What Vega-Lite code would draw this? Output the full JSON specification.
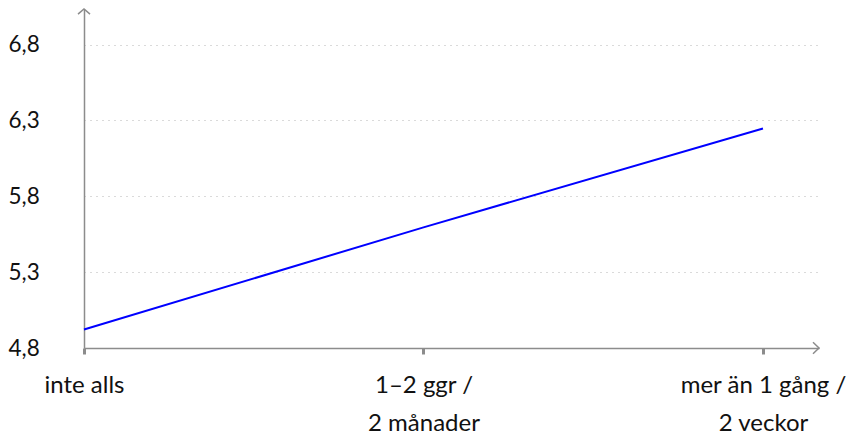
{
  "$schema": "https://vega.github.io/schema/vega-lite/v6.json",
  "autosize": {"type": "none"},
  "padding": {"left": 84, "top": 9, "right": 30, "bottom": 89},
  "width": 735,
  "height": 339,
  "background": "white",
  "config": {"view": {"stroke": null}, "font": "Lato"},
  "datasets": {
    "serie": [
      {"i": 0, "kategori": "inte alls", "varde": 4.922},
      {"i": 1, "kategori": "1–2 ggr / 2 månader", "varde": 5.595},
      {"i": 2, "kategori": "mer än 1 gång / 2 veckor", "varde": 6.247}
    ],
    "pilar": [
      {"x": 2.165, "y": 4.8, "riktning": "höger"},
      {"x": 0, "y": 7.034, "riktning": "upp"}
    ]
  },
  "layer": [
    {
      "data": {"name": "serie"},
      "mark": {"type": "line", "color": "#0000ff", "strokeWidth": 2},
      "encoding": {
        "x": {
          "field": "i", "type": "quantitative",
          "scale": {"domain": [0, 2.165], "nice": false, "zero": false},
          "axis": {
            "values": [0, 1, 2],
            "title": null,
            "grid": false,
            "domainColor": "#8c8c8c",
            "domainWidth": 1.5,
            "tickColor": "#8c8c8c",
            "tickWidth": 3,
            "tickSize": 6,
            "labelFont": "Lato",
            "labelFontSize": 24,
            "labelColor": "#111111",
            "labelPadding": 19,
            "labelLineHeight": 38,
            "labelFlush": false,
            "labelOverlap": false,
            "labelExpr": "datum.value == 0 ? 'inte alls' : datum.value == 1 ? ['1–2 ggr /', '2 månader'] : ['mer än 1 gång /', '2 veckor']"
          }
        },
        "y": {
          "field": "varde", "type": "quantitative",
          "scale": {"domain": [4.8, 7.034], "nice": false, "zero": false},
          "axis": {
            "values": [4.8, 5.3, 5.8, 6.3, 6.8],
            "title": null,
            "ticks": false,
            "tickSize": 0,
            "domainColor": "#8c8c8c",
            "domainWidth": 1.5,
            "gridColor": "#b5b5b5",
            "gridDash": [1, 5],
            "gridWidth": 1,
            "labelFont": "Lato",
            "labelFontSize": 22.5,
            "labelColor": "#111111",
            "labelAlign": "left",
            "labelBaseline": "middle",
            "labelPadding": 76,
            "labelFlush": false,
            "labelExpr": "replace(format(datum.value, '.1f'), '.', ',')"
          }
        }
      }
    },
    {
      "data": {"name": "pilar"},
      "transform": [{"filter": "datum.riktning == 'höger'"}],
      "mark": {"type": "point", "shape": "M-1,-0.95L0,0L-1,0.95", "filled": false, "stroke": "#8c8c8c", "strokeWidth": 1.5, "size": 144, "clip": false, "opacity": 1},
      "encoding": {
        "x": {"field": "x", "type": "quantitative"},
        "y": {"field": "y", "type": "quantitative"}
      }
    },
    {
      "data": {"name": "pilar"},
      "transform": [{"filter": "datum.riktning == 'upp'"}],
      "mark": {"type": "point", "shape": "M-1,0.85L0,0L1,0.85", "filled": false, "stroke": "#8c8c8c", "strokeWidth": 1.5, "size": 144, "clip": false, "opacity": 1},
      "encoding": {
        "x": {"field": "x", "type": "quantitative"},
        "y": {"field": "y", "type": "quantitative"}
      }
    }
  ]
}
